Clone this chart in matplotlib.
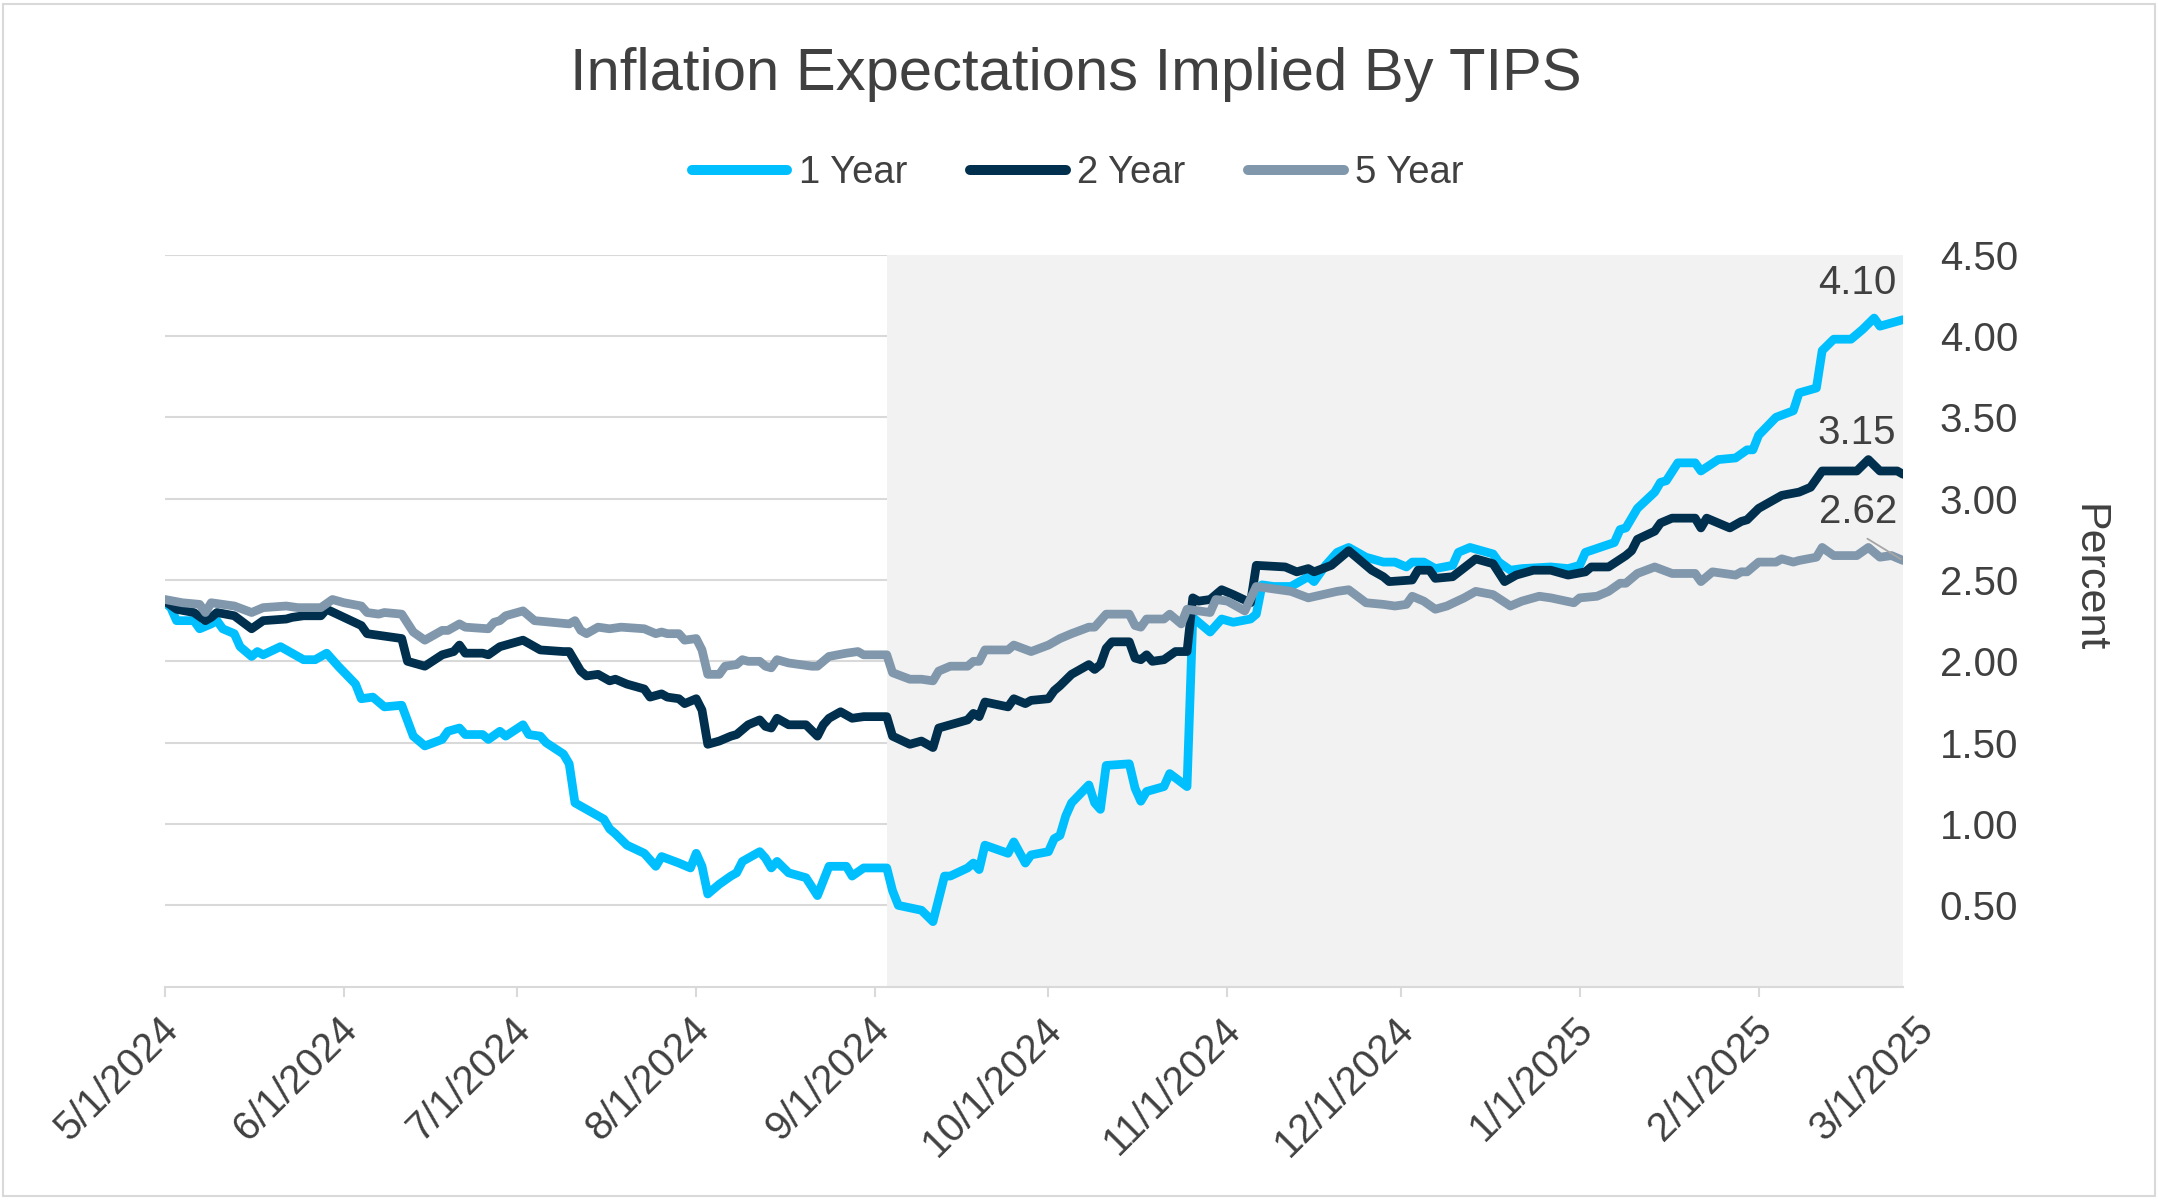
import matplotlib
matplotlib.use("Agg")
import matplotlib.pyplot as plt
import matplotlib.transforms as mtransforms
from matplotlib.patches import Rectangle
import pandas as pd

plt.rcParams['font.family'] = ['Liberation Sans', 'DejaVu Sans']

# ---------------- data ----------------
TITLE = "Inflation Expectations Implied By TIPS"
SERIES_NAMES = ["1 Year", "2 Year", "5 Year"]
Y_LABEL = "Percent"
Y_TICKS = [0.5, 1.0, 1.5, 2.0, 2.5, 3.0, 3.5, 4.0, 4.5]
X_TICK_DATES = ["2024-05-01", "2024-06-01", "2024-07-01", "2024-08-01", "2024-09-01",
                "2024-10-01", "2024-11-01", "2024-12-01", "2025-01-01", "2025-02-01"]
X_EXTRA_LABEL_DATE = "2025-03-01"
SHADE_START = "2024-09-03"

one_year_dates = ["2024-05-01","2024-05-02","2024-05-03","2024-05-06","2024-05-07","2024-05-09","2024-05-10","2024-05-11",
    "2024-05-13","2024-05-14","2024-05-16","2024-05-17","2024-05-18","2024-05-21","2024-05-22","2024-05-25","2024-05-27",
    "2024-05-29","2024-05-31","2024-06-03","2024-06-04","2024-06-06","2024-06-08","2024-06-11","2024-06-13","2024-06-15",
    "2024-06-18","2024-06-19","2024-06-21","2024-06-22","2024-06-25","2024-06-26","2024-06-28","2024-06-29","2024-07-02",
    "2024-07-03","2024-07-05","2024-07-06","2024-07-09","2024-07-10","2024-07-11","2024-07-16","2024-07-17","2024-07-18",
    "2024-07-20","2024-07-23","2024-07-25","2024-07-26","2024-07-29","2024-07-31","2024-08-01","2024-08-02","2024-08-03",
    "2024-08-05","2024-08-07","2024-08-08","2024-08-09","2024-08-12","2024-08-13","2024-08-14","2024-08-15","2024-08-17",
    "2024-08-20","2024-08-22","2024-08-24","2024-08-27","2024-08-28","2024-08-30","2024-09-03","2024-09-04","2024-09-05",
    "2024-09-09","2024-09-11","2024-09-13","2024-09-14","2024-09-17","2024-09-18","2024-09-19","2024-09-20","2024-09-24",
    "2024-09-25","2024-09-27","2024-09-28","2024-10-01","2024-10-02","2024-10-03","2024-10-04","2024-10-05","2024-10-08",
    "2024-10-09","2024-10-10","2024-10-11","2024-10-15","2024-10-16","2024-10-17","2024-10-18","2024-10-21","2024-10-22",
    "2024-10-25","2024-10-26","2024-10-27","2024-10-29","2024-10-31","2024-11-02","2024-11-05","2024-11-06","2024-11-07",
    "2024-11-09","2024-11-12","2024-11-15","2024-11-16","2024-11-18","2024-11-20","2024-11-22","2024-11-23","2024-11-25",
    "2024-11-28","2024-11-30","2024-12-02","2024-12-03","2024-12-05","2024-12-07","2024-12-10","2024-12-11","2024-12-13",
    "2024-12-17","2024-12-18","2024-12-20","2024-12-22","2024-12-27","2024-12-30","2025-01-01","2025-01-02","2025-01-07",
    "2025-01-08","2025-01-09","2025-01-11","2025-01-14","2025-01-15","2025-01-16","2025-01-18","2025-01-21","2025-01-22",
    "2025-01-25","2025-01-28","2025-01-30","2025-01-31","2025-02-01","2025-02-04","2025-02-07","2025-02-08","2025-02-11",
    "2025-02-12","2025-02-14","2025-02-17","2025-02-19","2025-02-21","2025-02-22","2025-02-24","2025-02-26"]
one_year_values = [2.36,2.33,2.25,2.25,2.20,2.23,2.25,2.20,
    2.17,2.09,2.03,2.06,2.04,2.09,2.07,2.01,2.01,
    2.05,1.97,1.86,1.77,1.78,1.72,1.73,1.54,1.48,
    1.52,1.57,1.59,1.55,1.55,1.52,1.57,1.54,1.61,
    1.55,1.54,1.50,1.43,1.37,1.13,1.03,0.97,0.94,
    0.87,0.82,0.74,0.80,0.76,0.73,0.82,0.74,0.57,
    0.63,0.68,0.70,0.77,0.83,0.79,0.73,0.77,0.70,
    0.67,0.56,0.74,0.74,0.68,0.73,0.73,0.59,0.50,
    0.47,0.40,0.68,0.68,0.73,0.76,0.72,0.87,0.82,
    0.89,0.76,0.81,0.83,0.91,0.93,1.05,1.13,1.24,
    1.13,1.09,1.36,1.37,1.22,1.14,1.20,1.23,1.31,
    1.23,2.27,2.24,2.18,2.26,2.24,2.26,2.29,2.47,
    2.46,2.46,2.52,2.49,2.59,2.67,2.70,2.68,2.64,
    2.61,2.61,2.58,2.61,2.61,2.57,2.59,2.67,2.70,
    2.66,2.61,2.56,2.57,2.58,2.57,2.59,2.67,2.73,
    2.81,2.82,2.94,3.04,3.10,3.11,3.22,3.22,3.17,
    3.24,3.25,3.30,3.30,3.39,3.50,3.54,3.65,3.68,
    3.91,3.98,3.98,4.04,4.11,4.06,4.08,4.10]

two_year_dates = ["2024-05-01","2024-05-03","2024-05-06","2024-05-08","2024-05-09","2024-05-10","2024-05-13","2024-05-16",
    "2024-05-18","2024-05-22","2024-05-23","2024-05-25","2024-05-28","2024-05-29","2024-06-01","2024-06-04","2024-06-05",
    "2024-06-07","2024-06-11","2024-06-12","2024-06-15","2024-06-18","2024-06-20","2024-06-21","2024-06-22","2024-06-25",
    "2024-06-26","2024-06-28","2024-07-02","2024-07-04","2024-07-05","2024-07-09","2024-07-10","2024-07-12","2024-07-13",
    "2024-07-15","2024-07-17","2024-07-18","2024-07-20","2024-07-23","2024-07-24","2024-07-26","2024-07-27","2024-07-29",
    "2024-07-30","2024-08-01","2024-08-02","2024-08-03","2024-08-05","2024-08-07","2024-08-08","2024-08-10","2024-08-12",
    "2024-08-13","2024-08-14","2024-08-15","2024-08-17","2024-08-20","2024-08-22","2024-08-23","2024-08-24","2024-08-26",
    "2024-08-28","2024-08-30","2024-09-03","2024-09-04","2024-09-07","2024-09-09","2024-09-11","2024-09-12","2024-09-14",
    "2024-09-17","2024-09-18","2024-09-19","2024-09-20","2024-09-24","2024-09-25","2024-09-27","2024-09-28","2024-10-01",
    "2024-10-02","2024-10-03","2024-10-05","2024-10-08","2024-10-09","2024-10-10","2024-10-11","2024-10-12","2024-10-15",
    "2024-10-16","2024-10-17","2024-10-18","2024-10-19","2024-10-21","2024-10-23","2024-10-25","2024-10-26","2024-10-27",
    "2024-10-29","2024-10-31","2024-11-02","2024-11-05","2024-11-06","2024-11-11","2024-11-13","2024-11-15","2024-11-16",
    "2024-11-19","2024-11-22","2024-11-26","2024-11-28","2024-11-29","2024-12-03","2024-12-04","2024-12-06","2024-12-07",
    "2024-12-10","2024-12-14","2024-12-17","2024-12-19","2024-12-21","2024-12-24","2024-12-27","2024-12-30","2025-01-02",
    "2025-01-03","2025-01-06","2025-01-09","2025-01-10","2025-01-11","2025-01-14","2025-01-15","2025-01-17","2025-01-21",
    "2025-01-22","2025-01-23","2025-01-25","2025-01-27","2025-01-29","2025-01-30","2025-02-01","2025-02-03","2025-02-05",
    "2025-02-08","2025-02-10","2025-02-12","2025-02-16","2025-02-18","2025-02-20","2025-02-22","2025-02-25","2025-02-26"]
two_year_values = [2.37,2.32,2.30,2.25,2.27,2.30,2.28,2.20,
    2.25,2.26,2.27,2.28,2.28,2.32,2.27,2.22,2.17,
    2.16,2.14,2.00,1.97,2.04,2.06,2.10,2.05,2.05,
    2.04,2.09,2.13,2.09,2.07,2.06,2.06,1.94,1.91,
    1.92,1.88,1.89,1.86,1.83,1.78,1.80,1.78,1.77,
    1.74,1.77,1.70,1.49,1.51,1.54,1.55,1.61,1.64,
    1.60,1.59,1.65,1.61,1.61,1.54,1.61,1.65,1.69,
    1.65,1.66,1.66,1.54,1.49,1.51,1.47,1.59,1.61,
    1.64,1.68,1.66,1.75,1.72,1.77,1.74,1.76,1.77,
    1.82,1.85,1.92,1.98,1.95,1.98,2.08,2.12,2.12,
    2.02,2.01,2.04,2.00,2.01,2.06,2.06,2.39,2.37,
    2.38,2.44,2.41,2.36,2.59,2.58,2.55,2.57,2.55,
    2.59,2.68,2.56,2.52,2.49,2.50,2.56,2.56,2.51,
    2.52,2.63,2.60,2.49,2.53,2.56,2.56,2.53,2.55,
    2.58,2.58,2.65,2.68,2.75,2.80,2.85,2.88,2.88,
    2.82,2.88,2.85,2.82,2.86,2.87,2.94,2.98,3.02,
    3.04,3.07,3.17,3.17,3.17,3.24,3.17,3.17,3.15]

five_year_dates = ["2024-05-01","2024-05-04","2024-05-07","2024-05-08","2024-05-09","2024-05-13","2024-05-16","2024-05-18",
    "2024-05-22","2024-05-24","2024-05-28","2024-05-30","2024-06-01","2024-06-04","2024-06-05","2024-06-07","2024-06-08",
    "2024-06-11","2024-06-13","2024-06-15","2024-06-18","2024-06-19","2024-06-21","2024-06-22","2024-06-26","2024-06-27",
    "2024-06-28","2024-06-29","2024-07-02","2024-07-04","2024-07-10","2024-07-11","2024-07-12","2024-07-13","2024-07-15",
    "2024-07-17","2024-07-19","2024-07-23","2024-07-25","2024-07-26","2024-07-27","2024-07-29","2024-07-30","2024-08-01",
    "2024-08-02","2024-08-03","2024-08-05","2024-08-06","2024-08-08","2024-08-09","2024-08-10","2024-08-12","2024-08-13",
    "2024-08-14","2024-08-15","2024-08-17","2024-08-21","2024-08-22","2024-08-24","2024-08-27","2024-08-29","2024-08-30",
    "2024-09-03","2024-09-04","2024-09-07","2024-09-09","2024-09-11","2024-09-12","2024-09-14","2024-09-17","2024-09-18",
    "2024-09-19","2024-09-20","2024-09-24","2024-09-25","2024-09-28","2024-10-01","2024-10-03","2024-10-05","2024-10-08",
    "2024-10-09","2024-10-11","2024-10-15","2024-10-16","2024-10-17","2024-10-18","2024-10-21","2024-10-22","2024-10-24",
    "2024-10-25","2024-10-27","2024-10-29","2024-10-30","2024-11-01","2024-11-04","2024-11-06","2024-11-12","2024-11-15",
    "2024-11-20","2024-11-22","2024-11-25","2024-11-28","2024-11-30","2024-12-02","2024-12-03","2024-12-05","2024-12-07",
    "2024-12-09","2024-12-12","2024-12-14","2024-12-17","2024-12-20","2024-12-22","2024-12-25","2024-12-27","2024-12-31",
    "2025-01-01","2025-01-04","2025-01-06","2025-01-08","2025-01-09","2025-01-11","2025-01-14","2025-01-17","2025-01-21",
    "2025-01-22","2025-01-24","2025-01-28","2025-01-29","2025-01-30","2025-02-01","2025-02-04","2025-02-05","2025-02-07",
    "2025-02-08","2025-02-11","2025-02-12","2025-02-14","2025-02-18","2025-02-20","2025-02-22","2025-02-24","2025-02-26"]
five_year_values = [2.38,2.36,2.35,2.30,2.36,2.34,2.30,2.33,
    2.34,2.33,2.33,2.38,2.36,2.34,2.30,2.29,2.30,
    2.29,2.18,2.13,2.19,2.19,2.23,2.21,2.20,2.24,
    2.25,2.28,2.31,2.25,2.23,2.25,2.19,2.17,2.21,
    2.20,2.21,2.20,2.17,2.18,2.17,2.17,2.13,2.14,
    2.07,1.92,1.92,1.97,1.98,2.01,2.00,2.00,1.97,
    1.96,2.01,1.99,1.97,1.97,2.03,2.05,2.06,2.04,
    2.04,1.93,1.89,1.89,1.88,1.94,1.97,1.97,2.00,
    2.00,2.07,2.07,2.10,2.06,2.10,2.14,2.17,2.21,
    2.21,2.29,2.29,2.22,2.21,2.26,2.26,2.29,2.23,
    2.32,2.31,2.30,2.38,2.37,2.31,2.46,2.43,2.39,
    2.43,2.44,2.36,2.35,2.34,2.35,2.40,2.37,2.32,
    2.34,2.39,2.43,2.41,2.34,2.37,2.40,2.39,2.36,
    2.39,2.40,2.43,2.48,2.48,2.54,2.58,2.54,2.54,
    2.49,2.55,2.53,2.55,2.55,2.61,2.61,2.63,2.61,
    2.62,2.64,2.70,2.65,2.65,2.70,2.64,2.65,2.62]

SERIES_DATES = [one_year_dates, two_year_dates, five_year_dates]
SERIES_VALUES = [one_year_values, two_year_values, five_year_values]

# ---------------- style ----------------
COLORS = ["#00BFFF", "#00304D", "#8097AC"]
TEXT = "#404040"
GRID = "#D9D9D9"
SHADE = "#F2F2F2"

fig = plt.figure(figsize=(21.58, 12), dpi=100)
ax = fig.add_axes([0.07646, 0.17775, 0.80538, 0.61008])

lines = []
for name, d, v, c in zip(SERIES_NAMES, SERIES_DATES, SERIES_VALUES, COLORS):
    ln, = ax.plot(pd.to_datetime(d), v, color=c, lw=6.3, solid_joinstyle='round',
                  solid_capstyle='round', label=name, zorder=3)
    lines.append(ln)

x_start = pd.Timestamp(X_TICK_DATES[0])
x_end = max(pd.to_datetime(d).max() for d in SERIES_DATES)
ax.axvspan(pd.Timestamp(SHADE_START), x_end, color=SHADE, lw=0, zorder=1)
ax.set_xlim(x_start, x_end)
ax.set_ylim(0, 4.5)

ax.set_yticks(Y_TICKS)
ax.set_yticklabels([f"{t:.2f}" for t in Y_TICKS])
ax.yaxis.tick_right()
ax.tick_params(axis='y', length=0, pad=26.5, labelsize=29, labelcolor=TEXT)
ax.grid(axis='y', color=GRID, lw=1.5)
ax.set_axisbelow(True)
for s in ['top', 'left', 'right']:
    ax.spines[s].set_visible(False)
ax.spines['bottom'].set_color(GRID)
ax.spines['bottom'].set_linewidth(1.5)

def fmt(ts):
    return f"{ts.month}/{ts.day}/{ts.year}"

TICK_LEN = 7.2
TICK_PAD = 9.6
DX = -6 / 100
xt = pd.to_datetime(X_TICK_DATES)
ax.set_xticks(xt)
ax.tick_params(axis='x', length=TICK_LEN, width=1.5, color=GRID, direction='out',
               labelsize=29, labelcolor=TEXT, pad=TICK_PAD)
ax.set_xticklabels([fmt(t) for t in xt], rotation=45, ha='right', va='top',
                   rotation_mode='anchor')
shift = mtransforms.ScaledTranslation(DX, 0, fig.dpi_scale_trans)
for lbl in ax.get_xticklabels():
    lbl.set_transform(lbl.get_transform() + shift)
extra = pd.Timestamp(X_EXTRA_LABEL_DATE)
extra_trans = ax.get_xaxis_transform() + mtransforms.ScaledTranslation(
    DX, -(TICK_LEN + TICK_PAD) / 72, fig.dpi_scale_trans)
ax.text(extra, 0, fmt(extra), transform=extra_trans, rotation=45, ha='right', va='top',
        rotation_mode='anchor', fontsize=29, color=TEXT, clip_on=False)

ax.yaxis.set_label_position('right')
ax.set_ylabel(Y_LABEL, rotation=-90, fontsize=31, color=TEXT, va='center', ha='center')
ax.yaxis.set_label_coords(1.107, 0.558)

# end-value labels
offsets = [(-5, 26.6), (-5, 30), (-4.5, 35)]
for i, (d, v) in enumerate(zip(SERIES_DATES, SERIES_VALUES)):
    kw = {}
    if i == 2:
        kw['arrowprops'] = dict(arrowstyle='-', color='#A6A6A6', lw=1.3,
                                relpos=(0.46, 0.0), shrinkA=7, shrinkB=2)
    ax.annotate(f"{v[-1]:.2f}", xy=(pd.Timestamp(d[-1]), v[-1]), xytext=offsets[i],
                textcoords='offset points', ha='right', va='center', fontsize=29,
                color=TEXT, annotation_clip=False, zorder=4, **kw)

fig.text(0.4984, 0.938, TITLE, ha='center', va='center', fontsize=43, color=TEXT)

leg = fig.legend(lines, SERIES_NAMES, loc='center', bbox_to_anchor=(0.4995, 0.8555), ncol=3,
                 frameon=False, fontsize=27.5, handlelength=2.5, handletextpad=0.3,
                 columnspacing=1.65, labelcolor=TEXT)
for h in leg.legend_handles:
    h.set_linewidth(7.2)

fig.patches.append(Rectangle((0.0015, 0.003), 0.997, 0.994, transform=fig.transFigure,
                             fill=False, edgecolor=GRID, lw=1.5))

fig.savefig("out.png", dpi=100)
